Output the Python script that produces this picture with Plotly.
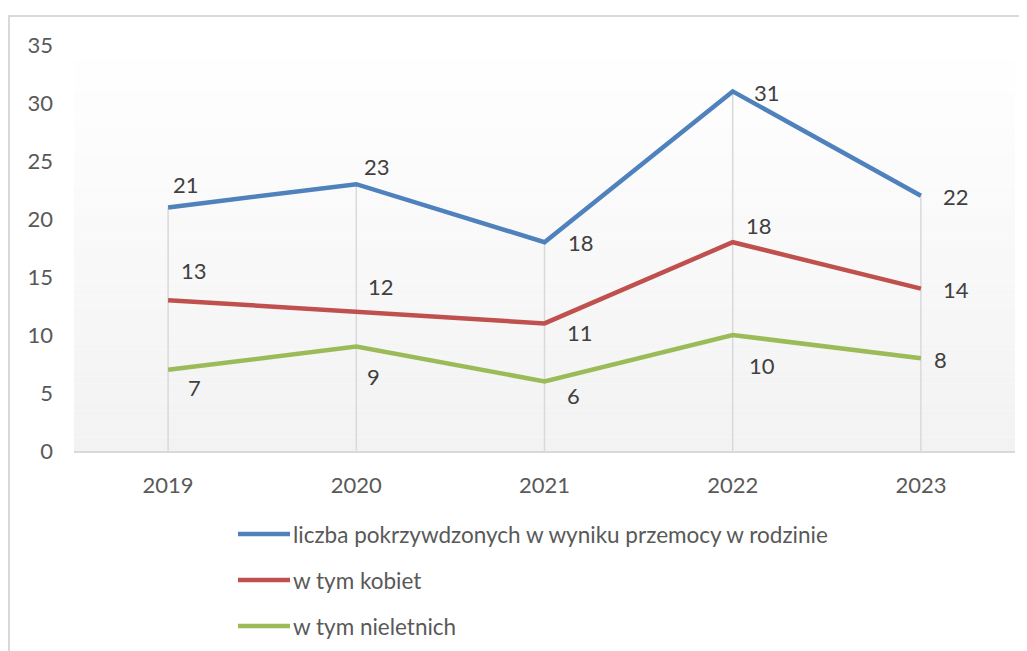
import plotly.graph_objects as go

# ---- data ----
years = ["2019", "2020", "2021", "2022", "2023"]
series_names = [
    "liczba pokrzywdzonych w wyniku przemocy w rodzinie",
    "w tym kobiet",
    "w tym nieletnich",
]
total_victims = [21, 23, 18, 31, 22]
women = [13, 12, 11, 18, 14]
minors = [7, 9, 6, 10, 8]
y_ticks = [0, 5, 10, 15, 20, 25, 30, 35]

# ---- styles ----
colors = ["#4f81bd", "#c0504d", "#9bbb59"]
label_offsets = [
    [(18, 23), (21, 18), (36, 0), (34, -1), (35, -1)],
    [(26, 30), (25, 25), (35, -9), (26, 17), (35, -1)],
    [(26, -18), (17, -30), (29, -14), (29, -30), (20, -1)],
]
FONT = "Lato"
OFF = 8  # page body margin
W, H = 1027 - OFF, 651 - OFF
ML, MR, MT, MB = 74 - OFF, 12, 45 - OFF, 200
PW, PH = W - ML - MR, H - MT - MB


def px(x):  # screen pixel -> paper
    return (x - OFF - ML) / PW


def py(y):
    return (H - MB - (y - OFF)) / PH


series = [total_victims, women, minors]
fig = go.Figure()

# drop lines from highest point to the axis
dx, dy = [], []
for i, yr in enumerate(years):
    top = max(s[i] for s in series)
    dx += [yr, yr, None]
    dy += [0, top, None]
fig.add_trace(go.Scatter(x=dx, y=dy, mode="lines", line=dict(color="#d9d9d9", width=1.5),
                         hoverinfo="skip", showlegend=False))

for name, vals, col in zip(series_names, series, colors):
    fig.add_trace(go.Scatter(x=years, y=vals, name=name, mode="lines",
                             line=dict(color=col, width=4.5), showlegend=False))

annotations = []
for vals, offs in zip(series, label_offsets):
    for i, (v, (ox, oy)) in enumerate(zip(vals, offs)):
        annotations.append(dict(x=i, y=v, text=str(v), showarrow=False,
                                xshift=ox, yshift=oy,
                                font=dict(family=FONT, size=22, color="#404040")))

# manual legend
shapes = []
legend_y = [534, 580, 626]
for name, col, ly in zip(series_names, colors, legend_y):
    shapes.append(dict(type="line", xref="paper", yref="paper",
                       x0=px(238), x1=px(290), y0=py(ly), y1=py(ly),
                       line=dict(color=col, width=4.5)))
    annotations.append(dict(xref="paper", yref="paper", x=px(291), y=py(ly),
                            xanchor="left", yanchor="middle", text=name, showarrow=False,
                            font=dict(family=FONT, size=22.5, color="#595959")))

# gradient background of plot area
n = 60
for k in range(n):
    t = (k + 0.5) / n  # 0 at bottom, 1 at top
    c = round(242 + (255 - 242) * t)
    shapes.append(dict(type="rect", xref="paper", yref="paper", layer="below",
                       x0=0, x1=1, y0=k / n, y1=(k + 1) / n,
                       fillcolor=f"rgb({c},{c},{c})", line=dict(width=0)))

# chart border
shapes.append(dict(type="rect", xref="paper", yref="paper",
                   x0=px(9), x1=px(1040), y0=py(665), y1=py(16),
                   line=dict(color="#d9d9d9", width=2), fillcolor="rgba(0,0,0,0)"))

fig.update_layout(
    width=W, height=H,
    margin=dict(l=ML, r=MR, t=MT, b=MB),
    paper_bgcolor="white", plot_bgcolor="white",
    font=dict(family=FONT, size=22, color="#595959"),
    shapes=shapes, annotations=annotations,
    showlegend=False,
)
fig.update_xaxes(type="category", range=[-0.5, 4.5], showgrid=False, zeroline=False,
                 showline=True, linecolor="#d9d9d9", linewidth=1.5,
                 ticks="", ticklabelstandoff=14)
fig.update_yaxes(range=[0, 35], tickvals=y_ticks, showgrid=False, zeroline=False,
                 showline=False, ticks="", ticklabelstandoff=20)

fig.write_html("out.html")
